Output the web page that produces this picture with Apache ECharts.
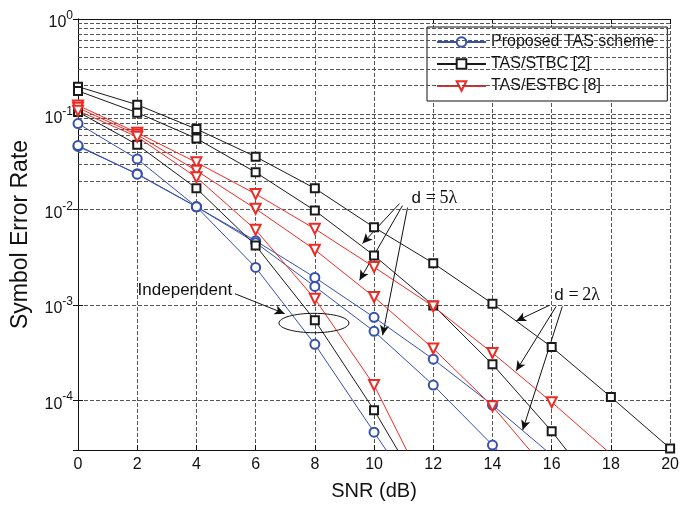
<!DOCTYPE html>
<html>
<head>
<meta charset="utf-8">
<script src="https://cdn.jsdelivr.net/npm/echarts@6/dist/echarts.min.js"></script>
<style>
  html, body { margin: 0; padding: 0; background: #fff; }
  #chart { width: 682px; height: 507px; }
</style>
</head>
<body>
<div id="chart"></div>
<script>
// SNR grid (dB)
const snr = [0, 2, 4, 6, 8, 10, 12, 14, 16, 18, 20];

// Symbol error rate, proposed TAS scheme
const proposedD2 = [0.080, 0.034, 0.0107, 0.0047, 0.00194, 7.4e-4, 2.69e-4, 8.9e-5, 2.65e-5];
const proposedD5 = [0.046, 0.0238, 0.0107, 0.0045, 0.00156, 5.28e-4, 1.44e-4, 3.38e-5, 7.9e-6];
const proposedIndep = [0.047, 0.0235, 0.0107, 0.00247, 3.86e-4, 4.62e-5, 5.5e-6];

// Symbol error rate, TAS/STBC [2]
const stbcD2 = [0.195, 0.126, 0.070, 0.0359, 0.0167, 0.00651, 0.00274, 0.00103, 3.61e-4, 1.08e-4, 3.12e-5];
const stbcD5 = [0.176, 0.104, 0.0558, 0.0246, 0.00977, 0.0033, 9.88e-4, 2.38e-4, 4.73e-5, 7.6e-6];
const stbcIndep = [0.106, 0.048, 0.0167, 0.0042, 6.9e-4, 7.86e-5, 7e-6];

// Symbol error rate, TAS/ESTBC [8]
const estbcD2 = [0.124, 0.064, 0.0313, 0.0146, 0.00628, 0.00249, 9.64e-4, 3.13e-4, 9.53e-5, 2.72e-5];
const estbcD5 = [0.117, 0.061, 0.0256, 0.0102, 0.00379, 0.00121, 3.48e-4, 8.65e-5, 1.6e-5];
const estbcIndep = [0.109, 0.058, 0.0218, 0.00613, 0.00116, 1.44e-4, 8.3e-6];

// Axis ranges and ticks
const xTicks = [0, 2, 4, 6, 8, 10, 12, 14, 16, 18, 20];
const yMin = 3e-5;
const yMax = 1;
const decades = [-5, -4, -3, -2, -1];
const mantissas = [2, 3, 4, 5, 6, 7, 8, 9];

// Legend names
const nameProposed = 'Proposed TAS scheme';
const nameStbc = 'TAS/STBC [2]';
const nameEstbc = 'TAS/ESTBC [8]';

// Annotation anchors in data coordinates [SNR, SER]
const arrows5 = [
  [[10.86, 0.01156], [9.61, 0.0044]],
  [[10.96, 0.01101], [9.51, 0.00181]],
  [[11.13, 0.0105], [10.29, 4.8e-4]]
];
const arrows2 = [
  [[15.92, 9.88e-4], [14.80, 6.76e-4]],
  [[16.15, 9.64e-4], [14.80, 2.03e-4]],
  [[16.36, 9.64e-4], [15.02, 4.85e-5]]
];
const arrowIndep = [[5.30, 1.31e-3], [6.98, 8.09e-4]];
const labelD5 = [12.04, 0.0130];
const labelD2 = [16.86, 1.26e-3];
const labelIndep = [3.61, 1.42e-3];
const ellipseCenter = [7.97, 6.45e-4];

const FONT = 'Liberation Sans, Arial, Helvetica, sans-serif';
const BLUE = '#3550ad';
const BLACK = '#1a1a1a';
const RED = '#ec2b24';

const minorValues = [];
decades.forEach(e => mantissas.forEach(m => {
  const v = m * Math.pow(10, e);
  if (v > yMin * 1.0001 && v < yMax) minorValues.push(v);
}));

function curve(name, values, color, symbol, size, rotate) {
  return {
    name: name,
    type: 'line',
    data: values.map((v, i) => [snr[i], v]),
    symbol: symbol,
    symbolSize: size,
    symbolRotate: rotate || 0,
    showAllSymbol: true,
    clip: true,
    z: 5,
    animation: false,
    lineStyle: { color: color, width: 1 },
    itemStyle: { color: color, borderColor: color, borderWidth: 1 },
    emphasis: { disabled: true }
  };
}

function arrowData(list) {
  return list.map(p => [{ coord: p[0] }, { coord: p[1] }]);
}

const series = [
  // minor horizontal grid lines (2..9 x 10^k)
  {
    type: 'line', data: [], silent: true, z: 1, animation: false,
    markLine: {
      silent: true, animation: false, symbol: ['none', 'none'],
      label: { show: false },
      lineStyle: { type: [4, 2], color: '#555', width: 1 },
      emphasis: { disabled: true },
      data: minorValues.map(v => ({ yAxis: v }))
    }
  },
  curve(nameProposed, proposedD2, BLUE, 'emptyCircle', 9),
  curve(nameProposed, proposedD5, BLUE, 'emptyCircle', 9),
  curve(nameProposed, proposedIndep, BLUE, 'emptyCircle', 9),
  curve(nameStbc, stbcD2, BLACK, 'emptyRect', 8),
  curve(nameStbc, stbcD5, BLACK, 'emptyRect', 8),
  curve(nameStbc, stbcIndep, BLACK, 'emptyRect', 8),
  curve(nameEstbc, estbcD2, RED, 'emptyTriangle', 10, 180),
  curve(nameEstbc, estbcD5, RED, 'emptyTriangle', 10, 180),
  curve(nameEstbc, estbcIndep, RED, 'emptyTriangle', 10, 180),
  // annotation arrows and labels
  {
    type: 'line', data: [], silent: true, z: 8, animation: false,
    markLine: {
      silent: true, animation: false,
      symbol: ['none', 'arrow'], symbolSize: [7, 10],
      label: { show: false },
      lineStyle: { type: 'solid', color: '#111', width: 1 },
      emphasis: { disabled: true },
      data: arrowData(arrows5).concat(arrowData(arrows2)).concat(arrowData([arrowIndep]))
    },
    markPoint: {
      silent: true, animation: false,
      symbol: 'circle', symbolSize: 0,
      label: {
        show: true, position: 'inside', color: '#111',
        fontFamily: FONT, fontSize: 17,
        rich: {
          s: { fontFamily: FONT, fontSize: 17, color: '#111' },
          r: { fontFamily: 'Liberation Serif, Times New Roman, serif', fontSize: 18, color: '#111' }
        }
      },
      data: [
        { coord: labelD5, value: 0, label: { formatter: '{s|d} {r|=\u20095\u03bb}' } },
        { coord: labelD2, value: 0, label: { formatter: '{s|d} {r|=\u20092\u03bb}' } },
        { coord: labelIndep, value: 0, label: { formatter: 'Independent' } }
      ]
    }
  }
];

const gridDash = { type: [4, 2], color: '#555', width: 1 };

const option = {
  animation: false,
  backgroundColor: '#fff',
  textStyle: { fontFamily: FONT },
  grid: { left: 78, right: 11, top: 19, bottom: 57, containLabel: false },
  legend: {
    data: [nameProposed, nameStbc, nameEstbc],
    orient: 'vertical',
    left: 427, top: 27,
    itemWidth: 49, itemHeight: 12, itemGap: 6,
    padding: [7, 13, 7, 9],
    backgroundColor: '#fff',
    borderColor: '#111', borderWidth: 1,
    selectedMode: false,
    textStyle: { fontFamily: FONT, fontSize: 16, color: '#111' }
  },
  xAxis: [
    {
      type: 'value', min: xTicks[0], max: xTicks[xTicks.length - 1], interval: 2,
      position: 'bottom',
      name: 'SNR (dB)', nameLocation: 'middle', nameGap: 31,
      nameTextStyle: { fontFamily: FONT, fontSize: 20, color: '#111' },
      axisLine: { lineStyle: { color: '#111', width: 1 } },
      axisTick: { inside: true, length: 5, lineStyle: { color: '#111' } },
      axisLabel: { fontFamily: FONT, fontSize: 16, color: '#111', margin: 7 },
      splitLine: { show: true, lineStyle: gridDash }
    },
    {
      type: 'value', min: xTicks[0], max: xTicks[xTicks.length - 1], interval: 2,
      position: 'top',
      axisLine: { lineStyle: { color: '#111', width: 1 } },
      axisTick: { inside: true, length: 5, lineStyle: { color: '#111' } },
      axisLabel: { show: false },
      splitLine: { show: false }
    }
  ],
  yAxis: [
    {
      type: 'log', logBase: 10, min: yMin, max: yMax,
      position: 'left',
      name: 'Symbol Error Rate', nameLocation: 'middle', nameGap: 46,
      nameTextStyle: { fontFamily: FONT, fontSize: 23, color: '#111' },
      axisLine: { show: true, lineStyle: { color: '#111', width: 1 } },
      axisTick: { inside: true, length: 5, lineStyle: { color: '#111' } },
      axisLabel: {
        margin: 5, color: '#111',
        formatter: function (v) {
          const e = Math.round(Math.log10(v));
          if (Math.abs(v - Math.pow(10, e)) / v > 1e-6) return '';
          return '{b|10}{s|' + (e === 0 ? '0' : '-' + Math.abs(e)) + '}';
        },
        rich: {
          b: { fontFamily: FONT, fontSize: 16, color: '#111', padding: [8, 0, 0, 0] },
          s: { fontFamily: FONT, fontSize: 12, color: '#111', padding: [0, 0, 6, 0] }
        }
      },
      splitLine: { show: true, lineStyle: gridDash }
    },
    {
      type: 'log', logBase: 10, min: yMin, max: yMax,
      position: 'right',
      axisLine: { show: true, lineStyle: { color: '#111', width: 1 } },
      axisTick: { inside: true, length: 5, lineStyle: { color: '#111' } },
      axisLabel: { show: false },
      splitLine: { show: false }
    }
  ],
  series: series
};

const chart = echarts.init(document.getElementById('chart'), null, { renderer: 'canvas' });
chart.setOption(option);

// ellipse grouping the independent-antenna curves
const c = chart.convertToPixel({ xAxisIndex: 0, yAxisIndex: 0 }, ellipseCenter);
chart.setOption({
  graphic: [{
    type: 'ellipse', silent: true, z: 20,
    shape: { cx: c[0], cy: c[1], rx: 35, ry: 9.7 },
    style: { fill: 'none', stroke: '#111', lineWidth: 1 }
  }]
});
</script>
</body>
</html>
